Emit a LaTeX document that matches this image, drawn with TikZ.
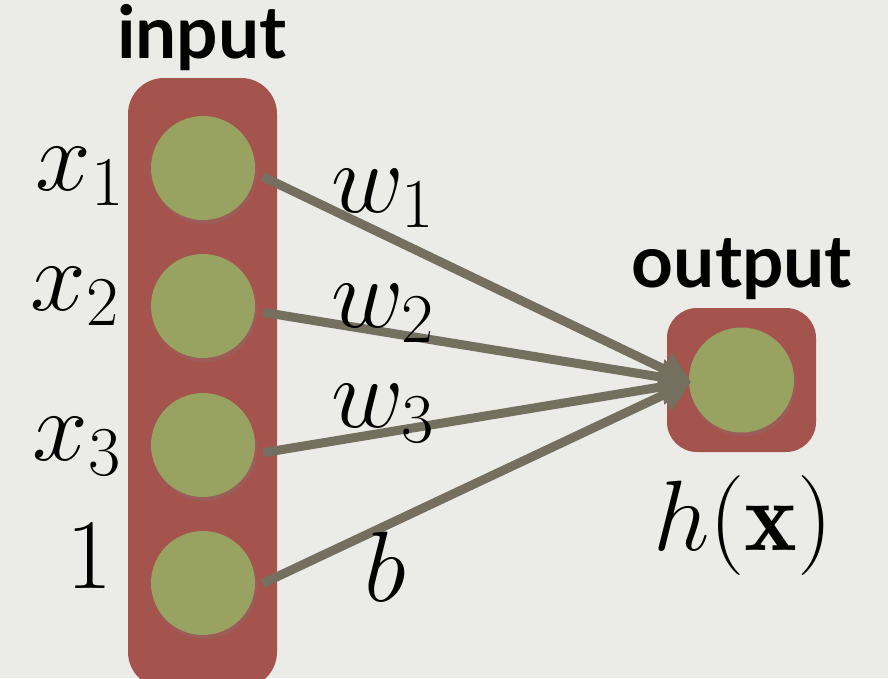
\RequirePackage{fix-cm}
\documentclass[tikz,border=0pt]{standalone}
\usepackage{fontspec}
\newfontfamily\headfont{Lato}
\usetikzlibrary{arrows.meta,shadows}
\definecolor{paper}{HTML}{EBEBE7}
\definecolor{layerred}{HTML}{A4544D}
\definecolor{neuron}{HTML}{98A362}
\definecolor{wire}{HTML}{756F60}
\begin{document}
\begin{tikzpicture}[x=1pt,y=-1pt,
  unit/.style={circle, fill=neuron, minimum size=104pt, inner sep=0pt,
    drop shadow={opacity=0.22, shadow xshift=2pt, shadow yshift=-4pt}},
  layer/.style={fill=layerred, inner sep=0pt},
  weight/.style={draw=wire, line width=9pt, -{Triangle[length=30pt,width=34pt]}, shorten <=8pt},
  sym/.style={font=\fontsize{100}{100}\selectfont, inner sep=0pt},
  head/.style={font=\headfont\bfseries\fontsize{73}{73}\selectfont, inner sep=0pt}]
  % canvas
  \useasboundingbox (0,0) rectangle (888,678);
  \clip (0,0) rectangle (888,678);
  \fill[paper] (0,0) rectangle (888,678);

  % layers
  \node[layer, rounded corners=36pt, minimum width=149pt, minimum height=610pt] (inlayer) at (202.5,383) {};
  \node[layer, rounded corners=30pt, minimum width=149pt, minimum height=144pt] (outlayer) at (741.5,380) {};

  % units
  \node[unit] (i1) at (203,168) {};
  \node[unit] (i2) at (203,306) {};
  \node[unit] (i3) at (203,445) {};
  \node[unit] (i4) at (203,583) {};
  \node[unit, minimum size=105pt] (o) at (741.5,380) {};

  % weighted connections
  \coordinate (hub) at (691,382);
  \draw[weight] ([shift={(0,5)}]i1.east) -- (hub);
  \draw[weight] ([shift={(0,5)}]i2.east) -- (hub);
  \draw[weight] ([shift={(0,9)}]i3.east) -- (hub);
  \draw[weight] ([shift={(0,4)}]i4.east) -- (hub);

  % headings
  \node[head, anchor=base] (tin) at (202,58) {input};
  \node[head, anchor=base] (tout) at (742,287) {output};

  % inputs
  \node[sym, anchor=base east] (lx1) at (124,190) {$x_1$};
  \node[sym, anchor=base east] (lx2) at (119,310) {$x_2$};
  \node[sym, anchor=base east] (lx3) at (121,460) {$x_3$};
  \node[sym, anchor=base east] (lone) at (113,588) {$1$};

  % weights
  \node[sym, anchor=base west] (lw1) at (331,212) {$w_1$};
  \node[sym, anchor=base west] (lw2) at (331,327) {$w_2$};
  \node[sym, anchor=base west] (lw3) at (331,427) {$w_3$};
  \node[sym, anchor=base west] (lb) at (364,601) {$b$};

  % output
  \node[sym, anchor=base west] (lh) at (653,550) {$h(\mathbf{x})$};
\end{tikzpicture}
\end{document}
